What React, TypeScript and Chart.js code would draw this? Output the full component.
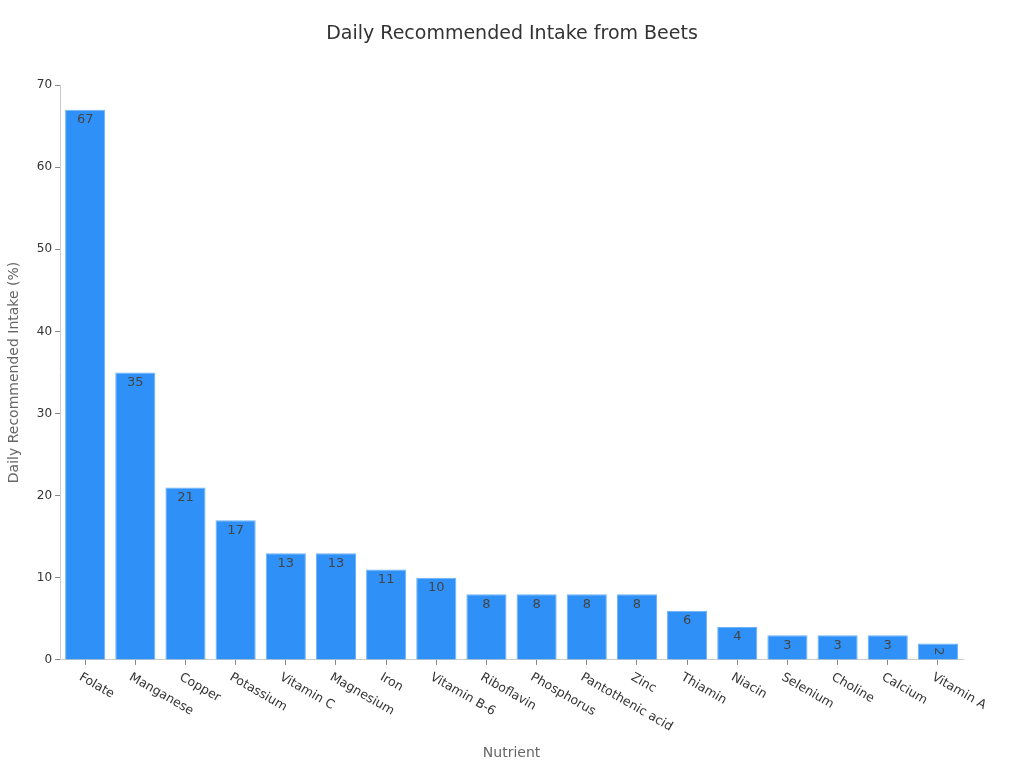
import React, { useEffect, useRef } from "react";
import { Chart, registerables } from "chart.js";

Chart.register(...registerables);

const nutrients = [
  "Folate", "Manganese", "Copper", "Potassium", "Vitamin C", "Magnesium", "Iron",
  "Vitamin B-6", "Riboflavin", "Phosphorus", "Pantothenic acid", "Zinc", "Thiamin",
  "Niacin", "Selenium", "Choline", "Calcium", "Vitamin A",
];
const intake = [67, 35, 21, 17, 13, 13, 11, 10, 8, 8, 8, 8, 6, 4, 3, 3, 3, 2];
const yTicks = [0, 10, 20, 30, 40, 50, 60, 70];
const titleText = "Daily Recommended Intake from Beets";

const FONT = "'DejaVu Sans', Verdana, sans-serif";

const labelsPlugin = {
  id: "customLabels",
  afterDatasetsDraw(chart: any) {
    const { ctx } = chart;
    const meta = chart.getDatasetMeta(0);
    ctx.save();
    ctx.font = `13px ${FONT}`;
    ctx.fillStyle = "#444";
    meta.data.forEach((bar: any, i: number) => {
      const v = intake[i];
      const h = bar.base - bar.y;
      if (h < 20) {
        ctx.save();
        ctx.translate(bar.x, (bar.y + bar.base) / 2);
        ctx.rotate(Math.PI / 2);
        ctx.textAlign = "center";
        ctx.textBaseline = "middle";
        ctx.fillText(String(v), 0, 0);
        ctx.restore();
      } else {
        ctx.textAlign = "center";
        ctx.textBaseline = "middle";
        ctx.fillText(String(v), bar.x, bar.y + 10);
      }
    });
    ctx.restore();
  },
  afterDraw(chart: any) {
    const { ctx } = chart;
    const xs = chart.scales.x;
    ctx.save();
    ctx.font = `12.5px ${FONT}`;
    ctx.fillStyle = "#333";
    ctx.textAlign = "left";
    ctx.textBaseline = "top";
    nutrients.forEach((n, i) => {
      const x = xs.getPixelForTick(i);
      ctx.save();
      ctx.translate(x - 2, xs.top + 11);
      ctx.rotate(Math.PI / 6);
      ctx.fillText(n, 0, 0);
      ctx.restore();
    });
    ctx.font = `19px ${FONT}`;
    ctx.fillStyle = "#333";
    ctx.textAlign = "center";
    ctx.textBaseline = "middle";
    ctx.fillText(titleText, 512, 34);
    ctx.restore();
  },
};

export default function App() {
  const ref = useRef<HTMLCanvasElement>(null);
  useEffect(() => {
    document.body.style.margin = "0";
    const chart = new Chart(ref.current!, {
      type: "bar",
      data: {
        labels: nutrients,
        datasets: [
          {
            data: intake,
            backgroundColor: "#2f91f7",
            borderColor: "#6db2f7",
            borderWidth: 1,
            barPercentage: 0.8,
            categoryPercentage: 1,
          },
        ],
      },
      options: {
        responsive: false,
        animation: false,
        layout: { padding: { left: 6, right: 61, top: 85, bottom: 2 } },
        plugins: {
          legend: { display: false },
          tooltip: { enabled: false },
          title: { display: false },
        },
        scales: {
          x: {
            grid: { display: true, offset: false, drawOnChartArea: false, drawTicks: true, tickLength: 5, color: "#888" },
            border: { display: true, color: "#ccc" },
            ticks: {
              color: "transparent",
              minRotation: 30,
              maxRotation: 30,
              autoSkip: false,
              font: { family: FONT, size: 12 },
              padding: 4,
            },
            title: {
              display: true,
              text: "Nutrient",
              color: "#666",
              font: { family: FONT, size: 14 },
              padding: { top: 10, bottom: 4 },
            },
          },
          y: {
            min: 0,
            max: 70,
            afterBuildTicks: (scale: any) => {
              scale.ticks = yTicks.map((v) => ({ value: v }));
            },
            grid: { display: true, drawOnChartArea: false, drawTicks: true, tickLength: 5, color: "#888" },
            border: { display: true, color: "#ccc" },
            ticks: { color: "#333", font: { family: FONT, size: 12 }, padding: 3 },
            title: {
              display: true,
              text: "Daily Recommended Intake (%)",
              color: "#666",
              font: { family: FONT, size: 14 },
              padding: { top: 0, bottom: 11 },
            },
          },
        },
      },
      plugins: [labelsPlugin],
    });
    return () => chart.destroy();
  }, []);
  return (
    <div style={{ width: 1024, height: 768 }}>
      <canvas ref={ref} width={1024} height={768} />
    </div>
  );
}
